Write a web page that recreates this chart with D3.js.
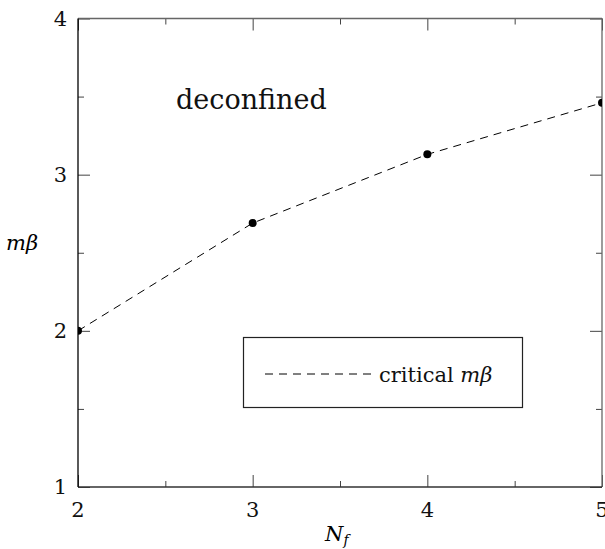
<!DOCTYPE html>
<html><head><meta charset="utf-8">
<script src="https://cdn.jsdelivr.net/npm/d3@7"></script>
<style>body{margin:0;background:#fff}svg{display:block}</style>
</head><body><svg id="c" width="605" height="549"></svg>
<script>
const nf = [2, 3, 4, 5];
const mbeta = [2.0, 2.69, 3.13, 3.46];
const xTicks = [2, 3, 4, 5];
const yTicks = [1, 2, 3, 4];
const xMinor = [2.5, 3.5, 4.5];
const yMinor = [1.5, 2.5, 3.5];

const FONT = "DejaVu Serif";
const L = 78, R = 602, T = 18.5, B = 487;
const svg = d3.select("#c").attr("font-family", FONT);
const x = d3.scaleLinear().domain([2, 5]).range([L, R]);
const y = d3.scaleLinear().domain([1, 4]).range([B, T]);

svg.append("defs").append("clipPath").attr("id","clip")
  .append("rect").attr("x",L).attr("y",T).attr("width",R-L).attr("height",B-T);

const tc = "#444";
function ticks(axisG){ axisG.select(".domain").remove(); axisG.selectAll("line").attr("stroke",tc).attr("stroke-width",1); axisG.selectAll("text").remove(); }
const g1 = svg.append("g").attr("transform",`translate(0,${B})`).call(d3.axisBottom(x).tickValues(xTicks).tickSize(-12)); ticks(g1);
const g2 = svg.append("g").attr("transform",`translate(0,${B})`).call(d3.axisBottom(x).tickValues(xMinor).tickSize(-6)); ticks(g2);
const g3 = svg.append("g").attr("transform",`translate(0,${T})`).call(d3.axisTop(x).tickValues(xTicks).tickSize(-12)); ticks(g3);
const g4 = svg.append("g").attr("transform",`translate(0,${T})`).call(d3.axisTop(x).tickValues(xMinor).tickSize(-6)); ticks(g4);
const g5 = svg.append("g").attr("transform",`translate(${L},0)`).call(d3.axisLeft(y).tickValues(yTicks).tickSize(-12)); ticks(g5);
const g6 = svg.append("g").attr("transform",`translate(${L},0)`).call(d3.axisLeft(y).tickValues(yMinor).tickSize(-6)); ticks(g6);
const g7 = svg.append("g").attr("transform",`translate(${R},0)`).call(d3.axisRight(y).tickValues(yTicks).tickSize(-12)); ticks(g7);
const g8 = svg.append("g").attr("transform",`translate(${R},0)`).call(d3.axisRight(y).tickValues(yMinor).tickSize(-6)); ticks(g8);

svg.append("line").attr("x1",L).attr("x2",R).attr("y1",T).attr("y2",T).attr("stroke","#666").attr("stroke-width",1.3);
svg.append("line").attr("x1",R).attr("x2",R).attr("y1",T).attr("y2",B).attr("stroke","#666").attr("stroke-width",1.3);
svg.append("line").attr("x1",L).attr("x2",R).attr("y1",B).attr("y2",B).attr("stroke","#333").attr("stroke-width",1.3);
svg.append("line").attr("x1",L).attr("x2",L).attr("y1",T).attr("y2",B).attr("stroke","#000").attr("stroke-width",1.3);

svg.append("g").selectAll("text").data(xTicks).join("text")
  .style("font-family",FONT).attr("fill","#111")
  .attr("x",d=>x(d)).attr("y",B+30).attr("text-anchor","middle").attr("font-size",21).text(d=>d);
svg.append("g").selectAll("text").data(yTicks).join("text")
  .style("font-family",FONT).attr("fill","#111")
  .attr("x",L-11).attr("y",d=>y(d)+7).attr("text-anchor","end").attr("font-size",21).text(d=>d);

svg.append("text").style("font-family",FONT).attr("x",325).attr("y",541).attr("font-size",21).attr("font-style","italic")
  .html('N<tspan font-size="14" dy="4">f</tspan>');
svg.append("text").style("font-family",FONT).attr("x",6).attr("y",250).attr("font-size",21).attr("font-style","italic").text("mβ");

const pts = nf.map((d,i)=>[d, mbeta[i]]);
const pg = svg.append("g").attr("clip-path","url(#clip)");
pg.append("path").datum(pts).attr("fill","none").attr("stroke","#000").attr("stroke-width",1)
  .attr("stroke-dasharray","8,6").attr("d", d3.line().x(d=>x(d[0])).y(d=>y(d[1])));
pg.selectAll("circle").data(pts).join("circle").attr("cx",d=>x(d[0])).attr("cy",d=>y(d[1])).attr("r",4).attr("fill","#000");

svg.append("text").style("font-family",FONT).attr("x",176).attr("y",109).attr("font-size",27).attr("fill","#111").text("deconfined");

svg.append("rect").attr("x",243.5).attr("y",337.5).attr("width",279).attr("height",70)
  .attr("fill","#fff").attr("stroke","#222").attr("stroke-width",1.2);
svg.append("line").attr("x1",265).attr("x2",372).attr("y1",374).attr("y2",374)
  .attr("stroke","#000").attr("stroke-width",1).attr("stroke-dasharray","8,6");
svg.append("text").style("font-family",FONT).attr("x",379).attr("y",382).attr("font-size",21).attr("fill","#111")
  .html('critical <tspan font-style="italic">mβ</tspan>');
</script></body></html>
